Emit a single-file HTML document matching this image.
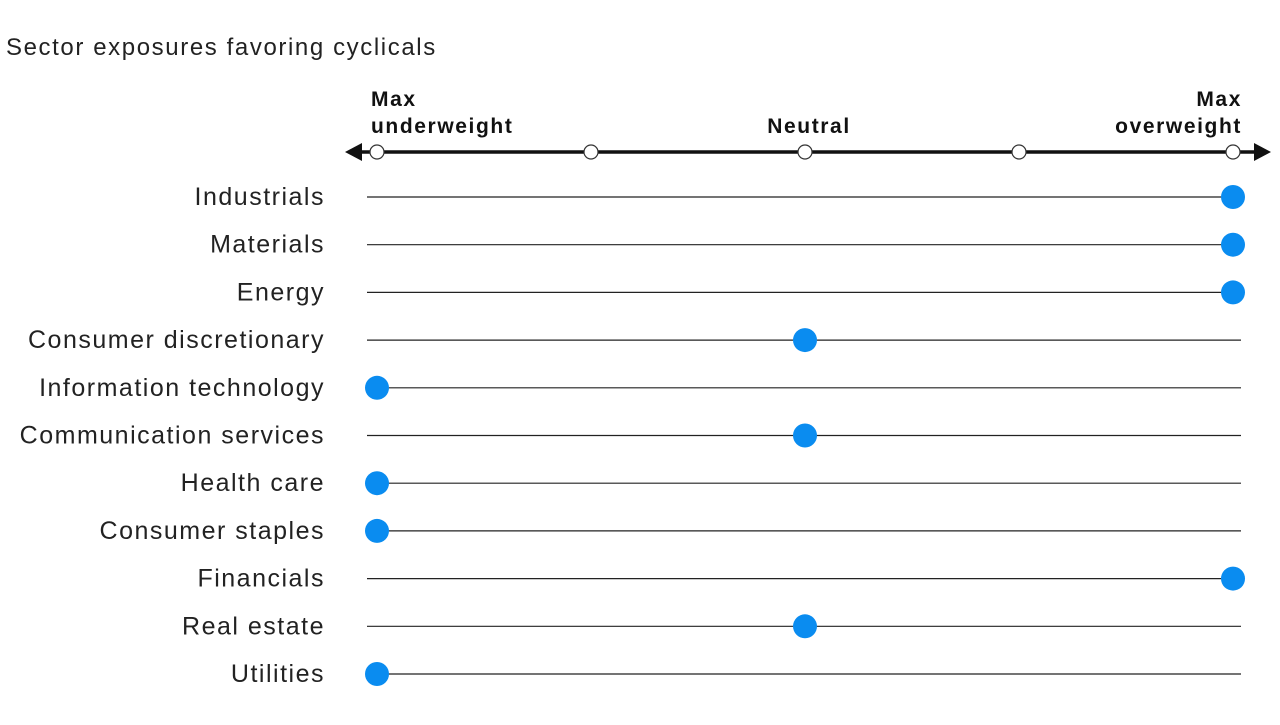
<!DOCTYPE html>
<html><head><meta charset="utf-8"><style>
body{margin:0;background:#fff;width:1280px;height:720px;overflow:hidden;font-family:"Liberation Sans",sans-serif}
</style></head><body>
<svg width="1280" height="720">
<text x="6" y="55" font-size="24" letter-spacing="1.6" fill="#222">Sector exposures favoring cyclicals</text>
<g id="axis"></g>
<g id="rows"></g>
</svg>
<script>
const sectors=["Industrials","Materials","Energy","Consumer discretionary","Information technology","Communication services","Health care","Consumer staples","Financials","Real estate","Utilities"];
const positions=[2,2,2,0,-2,0,-2,-2,2,0,-2];
const ticks=[-2,-1,0,1,2];
const NS="http://www.w3.org/2000/svg";
const x=v=>805+v*214;
const y=i=>197+i*47.7;
function mk(t,a,p){const e=document.createElementNS(NS,t);for(const k in a)e.setAttribute(k,a[k]);p.appendChild(e);return e;}
const ax=document.getElementById('axis');
let l=mk('line',{x1:355,x2:1260,y1:152,y2:152,stroke:'#111','stroke-width':3.5},ax);


let a1=mk('polygon',{points:'345,152 362,143 362,161',fill:'#111'},ax);


let a2=mk('polygon',{points:'1271,152 1254,143 1254,161',fill:'#111'},ax);


ticks.forEach(t=>{const c=mk('circle',{cx:x(t),cy:152,r:7,fill:'#fff',stroke:'#333','stroke-width':1.2},ax);

});
const lab=[[371,106,'start','Max'],[371,133,'start','underweight'],[809,133,'middle','Neutral'],[1242,106,'end','Max'],[1242,133,'end','overweight']];
lab.forEach(d=>{const t=mk('text',{x:d[0],y:d[1],'text-anchor':d[2],'font-size':21,'font-weight':'bold','letter-spacing':1.6,fill:'#111'},ax);t.textContent=d[3];

});
const rows=document.getElementById('rows');
sectors.forEach((s,i)=>{const g=mk('g',{},rows);


const t=mk('text',{x:325,y:y(i)+8,'text-anchor':'end','font-size':25,'letter-spacing':1.5,fill:'#222'},g);t.textContent=s;


const ln=mk('line',{x1:367,x2:1241,y1:y(i),y2:y(i),stroke:'#222','stroke-width':1.2},g);


const c=mk('circle',{cx:x(positions[i]),cy:y(i),r:12,fill:'#0a8cf0'},g);

});
</script>
</body></html>
